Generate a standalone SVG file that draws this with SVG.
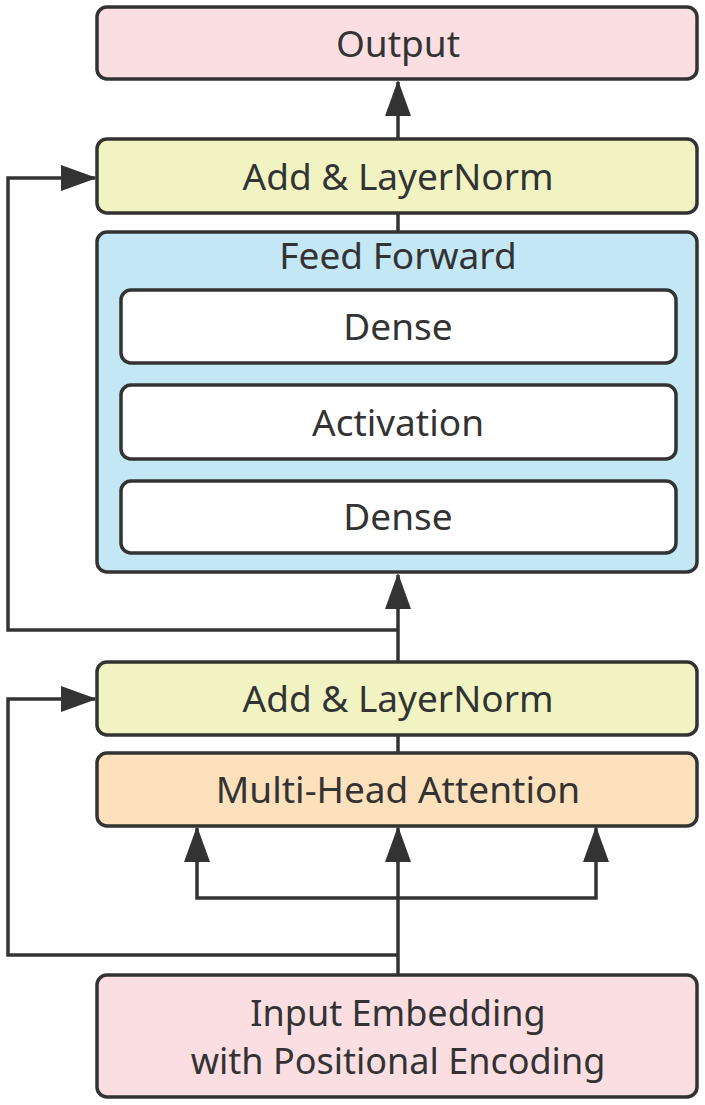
<svg xmlns="http://www.w3.org/2000/svg" width="705" height="1105" viewBox="0 0 705 1105">
<defs>
<marker id="arr" markerUnits="userSpaceOnUse" markerWidth="36" markerHeight="26" viewBox="0 0 36 26" refX="34" refY="13" orient="auto">
<path d="M0,0 L36,13 L0,26 Z" fill="#333"/>
</marker>
<style>
.box{stroke:#333;stroke-width:3.5}
.t{font-family:"Noto Sans","Open Sans",sans-serif;font-size:37px;fill:#333;text-anchor:middle;dominant-baseline:central}
.s{font-size:36px}
.c{fill:none;stroke:#333;stroke-width:3.5}
</style>
</defs>
<rect width="705" height="1105" fill="#fff"/>
<g id="connectors">
<path class="c" d="M398,139 V82" marker-end="url(#arr)"/>
<path class="c" d="M398,213 V232"/>
<path class="c" d="M398,363 V385"/>
<path class="c" d="M398,459 V481"/>
<path class="c" d="M398,662 V575" marker-end="url(#arr)"/>
<path class="c" d="M398,630 H8 V178 H95" marker-end="url(#arr)"/>
<path class="c" d="M398,735 V753"/>
<path class="c" d="M398,975 V828" marker-end="url(#arr)"/>
<path class="c" d="M398,898 H197 V828" marker-end="url(#arr)"/>
<path class="c" d="M398,898 H596 V828" marker-end="url(#arr)"/>
<path class="c" d="M398,955 H8 V699 H95" marker-end="url(#arr)"/>
</g>
<g id="output"><rect class="box" x="97" y="7" width="600" height="72" rx="10" fill="#fbdee2"/><text class="t" x="398" y="42">Output</text></g>
<g id="addnorm2"><rect class="box" x="97" y="139" width="600" height="74" rx="10" fill="#f1f4c2"/><text class="t" x="398" y="175">Add &amp; LayerNorm</text></g>
<g id="feedforward"><rect class="box" x="97" y="232" width="600" height="340" rx="10" fill="#c4e7f6"/><text class="t" x="398" y="254">Feed Forward</text></g>
<g id="dense1"><rect class="box" x="121" y="290" width="555" height="73" rx="10" fill="#fff"/><text class="t" x="398" y="325">Dense</text></g>
<g id="activation"><rect class="box" x="121" y="385" width="555" height="74" rx="10" fill="#fff"/><text class="t" x="398" y="421">Activation</text></g>
<g id="dense2"><rect class="box" x="121" y="481" width="555" height="72" rx="10" fill="#fff"/><text class="t" x="398" y="515">Dense</text></g>
<g id="addnorm1"><rect class="box" x="97" y="662" width="600" height="73" rx="10" fill="#f1f4c2"/><text class="t" x="398" y="697">Add &amp; LayerNorm</text></g>
<g id="mha"><rect class="box" x="97" y="753" width="600" height="73" rx="10" fill="#fde0bc"/><text class="t" x="398" y="788">Multi-Head Attention</text></g>
<g id="input"><rect class="box" x="97" y="975" width="600" height="122" rx="10" fill="#fbdee2"/><text class="t s" x="398" y="1012">Input Embedding</text><text class="t s" x="398" y="1060">with Positional Encoding</text></g>
</svg>
